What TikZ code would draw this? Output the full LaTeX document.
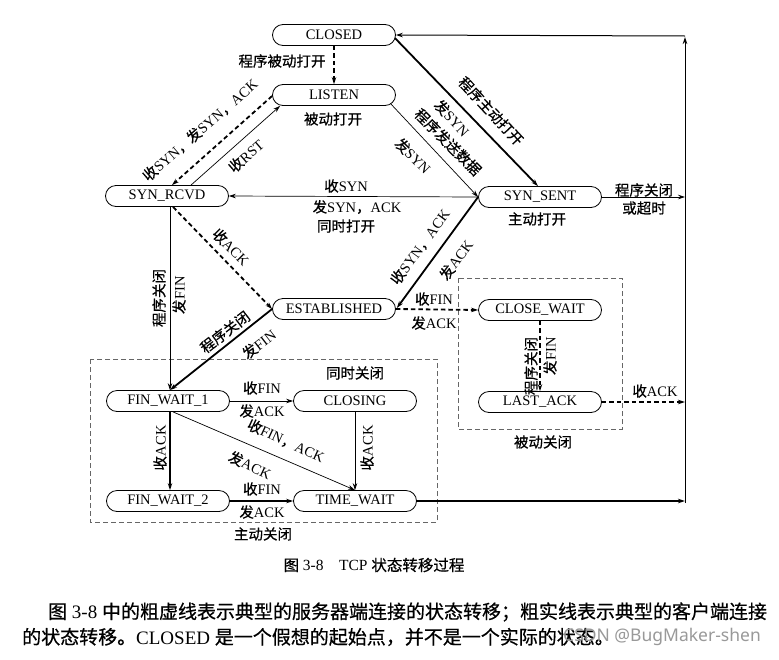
\documentclass[tikz,border=0pt]{standalone}
\usepackage{fontspec}
\setmainfont{Liberation Serif}
\newfontfamily\cjkf[FakeBold=0.6]{Noto Sans CJK SC}
\newfontfamily\wmf{Noto Sans}
\usetikzlibrary{calc,arrows.meta}
\newcommand\zh[1]{{\cjkf #1}}
\begin{document}
\begin{tikzpicture}[x=1pt,y=-1pt,
  st/.style={draw, line width=0.8pt, rounded corners=10.5pt, minimum width=123pt, minimum height=21pt, inner sep=0pt, font=\fontsize{14.5}{15}\selectfont},
  lb/.style={font=\fontsize{14.5}{15}\selectfont, inner sep=0pt},
  thk/.style={line width=1.8pt},
  thn/.style={line width=0.7pt},
  dsh/.style={line width=1.8pt, dash pattern=on 4.5pt off 3pt},
  tip/.style={-{Stealth[length=7pt,width=4.5pt]}},
  box/.style={draw=black!60, line width=0.8pt, dash pattern=on 5pt off 3pt},
]
\useasboundingbox (0,0) rectangle (779,659);
\fill[white] (0,0) rectangle (779,659);

% states
\node[st] (closed) at (334,35) {CLOSED};
\node[st] (listen) at (334,95) {LISTEN};
\node[st] (synrcvd) at (167,196) {SYN\_RCVD};
\node[st] (synsent) at (540,197) {SYN\_SENT};
\node[st] (est) at (334,309) {ESTABLISHED};
\node[st] (closewait) at (540,310) {CLOSE\_WAIT};
\node[st] (lastack) at (540,402) {LAST\_ACK};
\node[st] (fw1) at (168,401) {FIN\_WAIT\_1};
\node[st] (closing) at (355,401) {CLOSING};
\node[st] (fw2) at (168,501) {FIN\_WAIT\_2};
\node[st] (timewait) at (355,501) {TIME\_WAIT};

\coordinate (r1) at (685,197);
\coordinate (r2) at (685,402);
\coordinate (r3) at (685,501);
\coordinate (rb) at (685,503);
\coordinate (rt) at (685,36);

% dashed boxes
\draw[box] (90,359) rectangle (437,522);
\draw[box] (458,278) rectangle (622,429);
\node[lb] (tb1) at (355,373) {\zh{同时关闭}};
\node[lb] (tb2) at (263,534) {\zh{主动关闭}};
\node[lb] (tb3) at (543,442) {\zh{被动关闭}};
\node[lb] (ts1) at (333,119) {\zh{被动打开}};
\node[lb] (ts2) at (537,219) {\zh{主动打开}};

% CLOSED -> LISTEN
\draw[dsh,tip] (closed) -- (listen);
\node[lb] (e1) at (282,61) {\zh{程序被动打开}};

% LISTEN -> SYN_RCVD
\draw[dsh,tip] ($(listen.west)+(0,1)$) -- ($(synrcvd.north)+(5,0)$);
\node[lb,rotate=41] (e2) at (200,130) {\zh{收}SYN\zh{，发}SYN\zh{，}ACK};

% SYN_RCVD -> LISTEN
\draw[thn,tip] ($(synrcvd.north)+(24,0)$) -- ($(listen.south west)+(8,0)$);
\node[lb,rotate=41] (e3) at (246,156) {\zh{收}RST};

% LISTEN -> SYN_SENT
\draw[thn,tip] ($(listen.east)+(-5,9)$) -- (synsent.west);
\node[lb,rotate=-45] (e4a) at (448,142) {\zh{程序发送数据}};
\node[lb,rotate=-45] (e4b) at (413,156) {\zh{发}SYN};

% CLOSED -> SYN_SENT
\draw[thk,tip] ($(closed.east)+(-1,3)$) -- ($(synsent.north)+(-2,0)$);
\node[lb,rotate=-47] (e5a) at (491,111) {\zh{程序主动打开}};
\node[lb,rotate=-47] (e5b) at (452,118) {\zh{发}SYN};

% SYN_SENT -> SYN_RCVD
\draw[thn,tip] (synsent.west) -- (synrcvd.east);
\node[lb] (e6a) at (346,186) {\zh{收}SYN};
\node[lb] (e6b) at (357,207) {\zh{发}SYN\zh{，}ACK};
\node[lb] (e6c) at (346,226) {\zh{同时打开}};

% SYN_SENT -> ESTABLISHED
\draw[thk,tip] (synsent.west) -- ($(est.east)+(1,-1)$);
\node[lb,rotate=53.7] (e7a) at (420,247) {\zh{收}SYN\zh{，}ACK};
\node[lb,rotate=53.7] (e7b) at (456,260) {\zh{发}ACK};

% SYN_RCVD -> ESTABLISHED
\draw[dsh,tip] ($(synrcvd.south)+(6,0)$) -- (est.west);
\node[lb,rotate=-45] (e8) at (231,247) {\zh{收}ACK};

% SYN_RCVD -> FIN_WAIT_1
\draw[thn,tip] ($(synrcvd.south)+(3,0)$) -- ($(fw1.north)+(2,0)$);
\node[lb,rotate=90] (e9a) at (159,298) {\zh{程序关闭}};
\node[lb,rotate=90] (e9b) at (179,295) {\zh{发}FIN};

% ESTABLISHED -> FIN_WAIT_1
\draw[thk,tip] (est.west) -- ($(fw1.north)+(2,0)$);
\node[lb,rotate=37.6] (e10a) at (225,332) {\zh{程序关闭}};
\node[lb,rotate=37.6] (e10b) at (259,344) {\zh{发}FIN};

% ESTABLISHED -> CLOSE_WAIT
\draw[dsh,tip] (est.east) -- (closewait.west);
\node[lb] (e11a) at (434,299) {\zh{收}FIN};
\node[lb] (e11b) at (434,323) {\zh{发}ACK};

% CLOSE_WAIT -> LAST_ACK
\draw[dsh,tip] (closewait.south) -- (lastack.north);
\node[lb,rotate=90] (e12a) at (531,366) {\zh{程序关闭}};
\node[lb,rotate=90] (e12b) at (550,356) {\zh{发}FIN};

% LAST_ACK -> right
\draw[dsh,tip] (lastack.east) -- (r2);
\node[lb] (e13) at (655,391) {\zh{收}ACK};

% FIN_WAIT_1 -> CLOSING
\draw[thn,tip] (fw1.east) -- (closing.west);
\node[lb] (e14a) at (262,388) {\zh{收}FIN};
\node[lb] (e14b) at (262,411) {\zh{发}ACK};

% FIN_WAIT_1 -> FIN_WAIT_2
\draw[thk,tip] ($(fw1.south)+(2,0)$) -- ($(fw2.north)+(2,0)$);
\node[lb,rotate=90] (e15) at (160,448) {\zh{收}ACK};

% FIN_WAIT_1 -> TIME_WAIT
\draw[thn,tip] ($(fw1.south)+(5,0)$) -- (timewait.north);
\node[lb,rotate=-25] (e16a) at (286,441) {\zh{收}FIN\zh{，}ACK};
\node[lb,rotate=-25] (e16b) at (250,465) {\zh{发}ACK};

% CLOSING -> TIME_WAIT
\draw[thn,tip] (closing.south) -- (timewait.north);
\node[lb,rotate=90] (e17) at (367,448) {\zh{收}ACK};

% FIN_WAIT_2 -> TIME_WAIT
\draw[thk,tip] (fw2.east) -- (timewait.west);
\node[lb] (e18a) at (262,489) {\zh{收}FIN};
\node[lb] (e18b) at (262,512) {\zh{发}ACK};

% TIME_WAIT -> right
\draw[thk,tip] (timewait.east) -- (r3);

% SYN_SENT -> right
\draw[thn,tip] (synsent.east) -- (r1);
\node[lb] (e20a) at (644,190) {\zh{程序关闭}};
\node[lb] (e20b) at (644,208) {\zh{或超时}};

% right return line to CLOSED
\draw[line width=1pt,tip] (rb) -- ($(rt)+(0,1)$);
\draw[line width=1pt,tip] (rt) -- (closed.east);

% caption and text
\node[font=\fontsize{15.5}{17}\selectfont, inner sep=0pt] (cap) at (374,565) {\zh{图} 3-8\quad TCP \zh{状态转移过程}};
\node[anchor=west, font=\fontsize{19}{21}\selectfont, inner sep=0pt] (p1) at (48,612) {\zh{图} 3-8 \zh{中的粗虚线表示典型的服务器端连接的状态转移；粗实线表示典型的客户端连接}};
\node[anchor=west, font=\fontsize{19}{21}\selectfont, inner sep=0pt] (p2) at (22,637) {\zh{的状态转移。}CLOSED \zh{是一个假想的起始点，并不是一个实际的状态。}};
\node[anchor=west, text=black!40, font=\wmf\fontsize{17.5}{18}\selectfont, inner sep=0pt] (wm) at (563,637) {CSDN @BugMaker-shen};
\end{tikzpicture}
\end{document}
